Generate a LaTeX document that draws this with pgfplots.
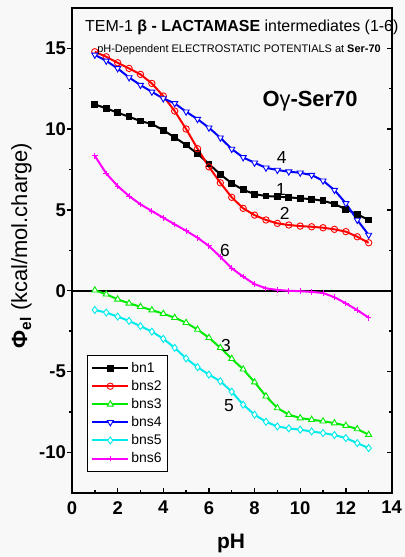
\documentclass[border=0pt]{standalone}
\usepackage{fontspec}
\setmainfont{Liberation Sans}
\usepackage{pgfplots}
\pgfplotsset{compat=1.18}
\usepackage{pgfplotstable}
\definecolor{bgc}{RGB}{248,248,248}
\definecolor{cgreen}{RGB}{0,235,0}
\definecolor{ccyan}{RGB}{0,235,235}
\definecolor{cmag}{RGB}{255,0,255}
\pgfplotstableread{
x bnA bnsB bnsC bnsD bnsE bnsF
1    11.53 14.79 0.03  14.60 -1.19 8.35
1.5  11.29 14.48 -0.22 14.23 -1.35 7.26
2    11.02 14.11 -0.53 13.76 -1.60 6.48
2.5  10.77 13.76 -0.78 13.20 -1.87 5.86
3    10.50 13.39 -0.99 12.73 -2.19 5.35
3.5  10.32 12.83 -1.20 12.31 -2.53 4.93
4    9.94  12.05 -1.42 11.90 -2.97 4.52
4.5  9.49  11.12 -1.67 11.60 -3.53 4.11
5    9.02  10.01 -1.98 11.08 -4.19 3.71
5.5  8.48  8.79  -2.40 10.62 -4.73 3.28
6    7.85  7.67  -2.91 10.09 -5.19 2.77
6.5  7.20  6.68  -3.53 9.47  -5.60 2.10
7    6.65  5.78  -4.21 8.77  -6.25 1.39
7.5  6.25  5.10  -4.86 8.25  -7.05 0.87
8    5.98  4.68  -5.66 7.92  -7.67 0.41
8.5  5.86  4.38  -6.53 7.61  -8.11 0.15
9    5.82  4.17  -7.26 7.47  -8.40 0.05
9.5  5.78  4.07  -7.67 7.37  -8.52 0.00
10   5.72  4.00  -7.88 7.30  -8.60 -0.03
10.5 5.67  3.96  -7.98 7.16  -8.71 -0.07
11   5.57  3.90  -8.08 6.81  -8.81 -0.14
11.5 5.37  3.80  -8.19 6.23  -8.93 -0.40
12   5.04  3.66  -8.35 5.41  -9.12 -0.78
12.5 4.73  3.34  -8.56 4.38  -9.43 -1.20
13   4.38  2.97  -8.91 3.45  -9.74 -1.67
}\datatable
\begin{document}
\begin{tikzpicture}
\path[use as bounding box] (0,0) rectangle (405bp,557bp);
\fill[bgc] (0,0) rectangle (405bp,557bp);
\pgfplotsset{
  common/.style={
    at={(72bp,64.3bp)}, anchor=south west,
    scale only axis, width=319.5bp, height=484.7bp,
    xmin=0, xmax=14, ymin=-12.5, ymax=17.5,
    xtick={0,2,...,14}, ytick={-10,-5,0,5,10,15},
    minor x tick num=1, minor y tick num=1,
    axis line style={line width=2bp},
    major tick length=5bp, minor tick length=3bp,
    every tick/.style={black, line width=1.4bp},
    /pgf/number format/assume math mode=true,
    ticklabel style={font=\fontsize{18.5}{18.5}\selectfont\bfseries},
    clip=false,
  }
}
\begin{axis}[common,
  tick align=inside, xtick pos=bottom, ytick pos=right,
  yticklabels={}, yticklabel style={opacity=0},
  xticklabel style={yshift=-5bp},
  xlabel={\textbf{pH}},
  xlabel style={font=\fontsize{21}{21}\selectfont, at={(axis description cs:0.498,-0.104)}, anchor=center},
  legend style={at={(0.047,0.284)}, anchor=north west, font=\fontsize{14}{16}\selectfont,
    draw=black, line width=0.6bp, fill=white, inner xsep=4bp, inner ysep=5bp, row sep=2.5bp},
  legend cell align=left,
  legend image code/.code={\draw[mark repeat=2,mark phase=2] plot coordinates {(0bp,0bp) (18bp,0bp) (36bp,0bp)};},
]
\addplot[black, line width=2bp, forget plot] coordinates {(0,0) (14,0)};
\addplot[black, line width=2bp, mark=square*, mark size=2.4bp, mark options={solid}] table[x=x,y=bnA] {\datatable};
\addlegendentry{bn1}
\addplot[red, line width=2bp, mark=o, mark size=3.2bp, mark options={fill=white, line width=0.9bp}] table[x=x,y=bnsB] {\datatable};
\addlegendentry{bns2}
\addplot[cgreen, line width=2bp, mark=triangle*, mark size=3.5bp, mark options={fill=white, line width=0.9bp}] table[x=x,y=bnsC] {\datatable};
\addlegendentry{bns3}
\addplot[blue, line width=2bp, mark=triangle*, mark size=3.5bp, mark options={fill=white, line width=0.9bp, rotate=180}] table[x=x,y=bnsD] {\datatable};
\addlegendentry{bns4}
\addplot[ccyan, line width=2bp, mark=diamond*, mark size=3.5bp, mark options={fill=white, line width=0.9bp}] table[x=x,y=bnsE] {\datatable};
\addlegendentry{bns5}
\addplot[cmag, line width=2bp, mark=+, mark size=2.8bp, mark options={line width=1bp}] table[x=x,y=bnsF] {\datatable};
\addlegendentry{bns6}
\node[font=\fontsize{17.5}{17.5}\selectfont] at (axis cs:9.19,8.24) {4};
\node[font=\fontsize{17.5}{17.5}\selectfont] at (axis cs:9.16,6.28) {1};
\node[font=\fontsize{17.5}{17.5}\selectfont] at (axis cs:9.32,4.79) {2};
\node[font=\fontsize{17.5}{17.5}\selectfont] at (axis cs:6.70,2.47) {6};
\node[font=\fontsize{17.5}{17.5}\selectfont] at (axis cs:6.75,-3.36) {3};
\node[font=\fontsize{17.5}{17.5}\selectfont] at (axis cs:6.88,-7.13) {5};
\node[anchor=west, inner sep=0pt, font=\fontsize{16}{16}\selectfont] at (axis cs:0.57,16.29) {TEM-1 \textbf{β - LACTAMASE} intermediates (1-6)};
\node[anchor=west, inner sep=0pt, font=\fontsize{11}{11}\selectfont] at (axis cs:1.10,14.9) {pH-Dependent ELECTROSTATIC POTENTIALS at \textbf{Ser-70}};
\node[font=\fontsize{22}{22}\selectfont] at (axis cs:10.43,11.74) {\textbf{O}γ\textbf{-Ser70}};
\end{axis}
\begin{axis}[common,
  tick align=outside, xtick=\empty, ytick pos=left,
  yticklabel style={inner sep=1pt},
  ylabel={\textbf{Φ}\textsubscript{\textbf{el}} (kcal/mol.charge)},
  ylabel style={font=\fontsize{22}{22}\selectfont, at={(axis description cs:-0.1585,0.51)}, anchor=center, rotate=0},
]
\end{axis}
\end{tikzpicture}
\end{document}
